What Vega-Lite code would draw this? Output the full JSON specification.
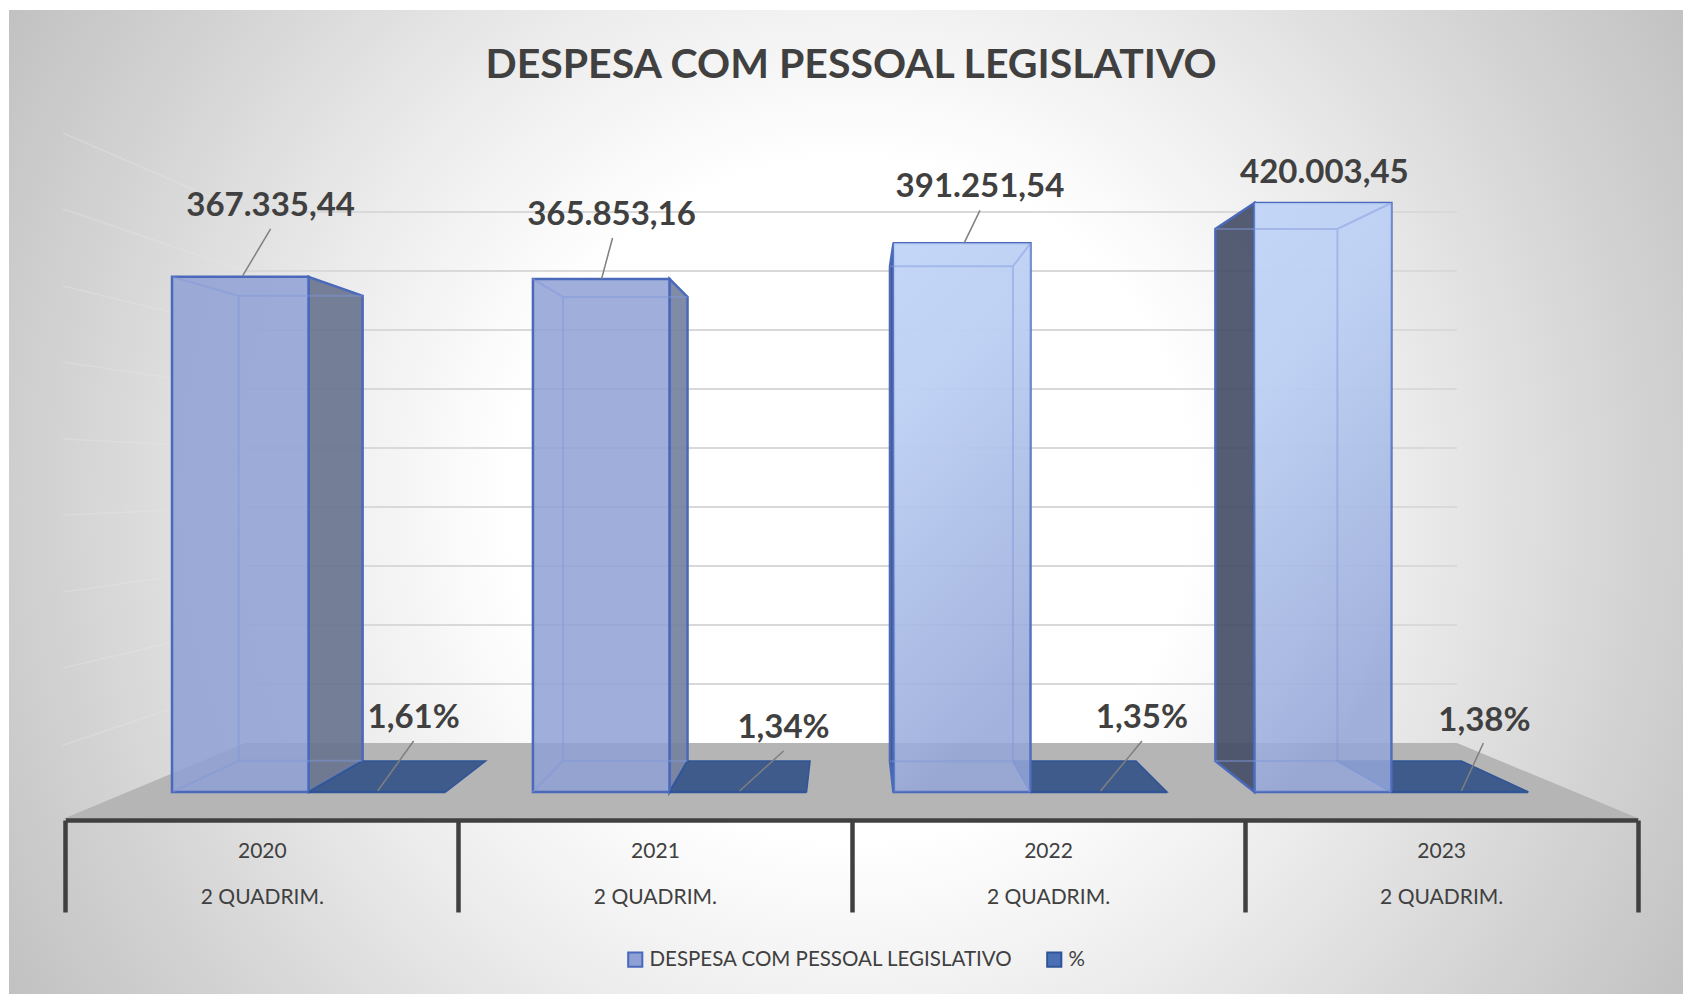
{
"$schema":"https://vega.github.io/schema/vega-lite/v6.json",
"autosize":{"type":"none"},
"padding":{"left":9,"top":10,"right":0,"bottom":0},
"width":1674,"height":984,
"background":"#ffffff",
"config":{"view":{"stroke":null},"font":"Lato"},
"title":{"text":"DESPESA COM PESSOAL LEGISLATIVO","font":"Lato","fontWeight":"bold","fontSize":41,"color":"#404040","anchor":"middle","dx":5,"offset":-97,"baseline":"middle"},
"datasets":{
"linhas":[
{"ano":"2020","quadrim":"2 QUADRIM.","serie":"DESPESA COM PESSOAL LEGISLATIVO","valor":367335.44,"rotulo":"367.335,44"},
{"ano":"2021","quadrim":"2 QUADRIM.","serie":"DESPESA COM PESSOAL LEGISLATIVO","valor":365853.16,"rotulo":"365.853,16"},
{"ano":"2022","quadrim":"2 QUADRIM.","serie":"DESPESA COM PESSOAL LEGISLATIVO","valor":391251.54,"rotulo":"391.251,54"},
{"ano":"2023","quadrim":"2 QUADRIM.","serie":"DESPESA COM PESSOAL LEGISLATIVO","valor":420003.45,"rotulo":"420.003,45"},
{"ano":"2020","quadrim":"2 QUADRIM.","serie":"%","valor":0.0161,"rotulo":"1,61%"},
{"ano":"2021","quadrim":"2 QUADRIM.","serie":"%","valor":0.0134,"rotulo":"1,34%"},
{"ano":"2022","quadrim":"2 QUADRIM.","serie":"%","valor":0.0135,"rotulo":"1,35%"},
{"ano":"2023","quadrim":"2 QUADRIM.","serie":"%","valor":0.0138,"rotulo":"1,38%"}
],
"grade":[{"grade":50000},{"grade":100000},{"grade":150000},{"grade":200000},{"grade":250000},{"grade":300000},{"grade":350000},{"grade":400000},{"grade":450000}]
},
"resolve":{"scale":{"x":"independent","y":"independent","fill":"independent","stroke":"independent","shape":"independent"},"axis":{"x":"independent"}},
"layer":[
{"data":{"values":[{"peca":"fundo"}]},
 "mark":{"type":"rect","clip":true,"color":{"gradient":"radial","x1":0.5,"y1":0.5,"r1":0,"x2":0.5,"y2":0.5,"r2":0.5,"stops":[{"offset":0,"color":"#ffffff"},{"offset":0.34,"color":"#ffffff"},{"offset":0.54,"color":"#ededed"},{"offset":0.78,"color":"#d4d4d4"},{"offset":1,"color":"#bfbfbf"}]}},
 "encoding":{"x":{"value":-159},"x2":{"value":1841},"y":{"value":-510},"y2":{"value":1490}}},
{"data":{"values":[{"peca":"parede"}]},
 "mark":{"type":"point","size":4,"filled":false,"opacity":0.35,"stroke":"#e8e8e8","strokeWidth":1.5,"shape":"M54,123L236,202M54,199L236,261M54,276L236,320M54,352L236,379M54,429L236,438M54,505L236,497M54,582L236,556M54,658L236,615M54,735L236,674"},
 "encoding":{"x":{"value":0},"y":{"value":0}}},
{"data":{"name":"grade"},
 "mark":{"type":"rule","stroke":"#d9d9d9","strokeWidth":2},
 "encoding":{"x":{"value":236},"x2":{"value":1448},"y":{"field":"grade","type":"quantitative","axis":null,"scale":{"domain":[0,450000],"range":[733,202]}}}},
{"data":{"values":[{"peca":"piso"}]},
 "mark":{"type":"point","size":4,"filled":true,"opacity":1,"fill":"#b5b5b5","stroke":null,"shape":"M54,809L1631,809L1448,733L236,733Z"},
 "encoding":{"x":{"value":0},"y":{"value":0}}},
{"data":{"name":"linhas"},
 "transform":[{"filter":"datum.serie==='%'"}],
 "mark":{"type":"point","opacity":0},
 "encoding":{"x":{"field":"ano","type":"nominal","title":null,"scale":{"type":"band","domain":["2020","2021","2022","2023"],"range":[56.3,1628.7],"padding":0},
   "axis":{"orient":"bottom","offset":-174,"zindex":1,"labelAngle":0,"tickBand":"extent","tickSize":92,"tickWidth":4.5,"tickColor":"#404040","domainWidth":4.5,"domainColor":"#404040","labelColor":"#404040","labelFont":"Lato","labelFontSize":21,"labelPadding":-72,"labelLineHeight":46,"labelBaseline":"top","labelExpr":"datum.label ? [datum.label,'2 QUADRIM.'] : ''"}}}},
{"data":{"name":"linhas"},
 "resolve":{"scale":{"shape":"independent"}},
 "encoding":{"x":{"field":"ano","type":"nominal","axis":null,"scale":{"type":"band","domain":["2020","2021","2022","2023"],"range":[163,1519],"paddingInner":0.243,"paddingOuter":0}},
   "y":{"field":"valor","type":"quantitative","axis":null,"scale":{"domain":[0,420003.45],"range":[782,193]}}},
 "layer":[
 {"transform":[{"filter":"datum.serie!=='%'"}],
  "mark":{"type":"point","size":4,"filled":true,"opacity":1,"fillOpacity":0.92,"strokeOpacity":1,"stroke":"#4a69bb","strokeWidth":2.5,"fill":{"expr":"{'2020':'#69758f','2021':'#75819f','2022':'#3f4a68','2023':'#474f68'}[datum.ano]"}},
  "encoding":{"shape":{"field":"ano","type":"nominal","legend":null,"scale":{"domain":["2020","2021","2022","2023"],"range":["M0,0L54,19L54,484L0,515Z","M0,0L18,18L18,482L0,513Z","M-137,0L-140.5,23L-140.5,518L-137,549Z","M-137,0L-176,26L-176,558L-137,589Z"]}}}},
 {"transform":[{"filter":"datum.serie==='%'"}],
  "mark":{"type":"point","size":4,"filled":true,"opacity":1,"fill":"#3f5b8c","stroke":"#2f5597","strokeWidth":1.5},
  "encoding":{"shape":{"field":"ano","type":"nominal","legend":null,"scale":{"domain":["2020","2021","2022","2023"],"range":["M0,0L137,0L177,-31L54,-31Z","M0,0L137,0L140.5,-31L18,-31Z","M0,0L136.5,0L105.5,-31L-17.5,-31Z","M0,0L137,0L70,-31L-54,-31Z"]}}}},
 {"mark":{"type":"bar","fillOpacity":0.85,"strokeWidth":2.5},
  "encoding":{"xOffset":{"field":"serie","type":"nominal","scale":{"domain":["DESPESA COM PESSOAL LEGISLATIVO","%"],"paddingInner":0,"paddingOuter":0}},
   "fill":{"field":"serie","type":"nominal","scale":{"domain":["DESPESA COM PESSOAL LEGISLATIVO","%"],"range":["#8ea0d4","#4a6fb5"]},
     "legend":{"title":null,"orient":"none","legendX":616,"legendY":939,"direction":"horizontal","columns":2,"symbolType":"square","symbolSize":200,"symbolStrokeWidth":2,"symbolOpacity":1,"labelFont":"Lato","labelFontSize":20.5,"labelColor":"#404040","labelLimit":500,"columnPadding":30,"padding":0}},
   "stroke":{"field":"serie","type":"nominal","scale":{"domain":["DESPESA COM PESSOAL LEGISLATIVO","%"],"range":["#4a69bb","#2f5597"]}}}},
 {"transform":[{"filter":"datum.serie!=='%' && (datum.ano==='2022' || datum.ano==='2023')"}],
  "mark":{"type":"bar","stroke":null,"color":{"gradient":"linear","x1":0,"y1":0,"x2":0.25,"y2":1,"stops":[{"offset":0,"color":"rgba(205,225,255,0.8)"},{"offset":0.3,"color":"rgba(205,225,255,0.7)"},{"offset":1,"color":"rgba(205,225,255,0.08)"}]}},
  "encoding":{"xOffset":{"field":"serie","type":"nominal","scale":{"domain":["DESPESA COM PESSOAL LEGISLATIVO","%"],"paddingInner":0,"paddingOuter":0}}}},
 {"transform":[{"filter":"datum.serie!=='%'"}],
  "mark":{"type":"point","size":4,"filled":false,"opacity":0.45,"stroke":"#7f97dc","strokeWidth":2},
  "encoding":{"shape":{"field":"ano","type":"nominal","legend":null,"scale":{"domain":["2020","2021","2022","2023"],"range":["M-136,0L-70,19L54,19M-70,19L-70,484L54,484M-70,484L-136,515","M-137,0L-106.5,18L18,18M-106.5,18L-106.5,482L18,482M-106.5,482L-137,513","M0,0L-17.5,23L-140.5,23M-17.5,23L-17.5,518L-140.5,518M-17.5,518L0,549","M0,0L-54,26L-176,26M-54,26L-54,558L-176,558M-54,558L0,589"]}}}},
 {"transform":[{"filter":"datum.serie!=='%'"}],
  "mark":{"type":"point","size":4,"filled":false,"opacity":1,"stroke":"#7f7f7f","strokeWidth":1.5},
  "encoding":{"shape":{"field":"ano","type":"nominal","legend":null,"scale":{"domain":["2020","2021","2022","2023"],"range":["M-66,-1L-38,-48","M-68,0L-57,-41","M-66.5,0L-50.5,-33","M0,0"]}}}},
 {"transform":[{"filter":"datum.serie==='%'"}],
  "mark":{"type":"point","size":4,"filled":false,"opacity":1,"stroke":"#7f7f7f","strokeWidth":1.5},
  "encoding":{"shape":{"field":"ano","type":"nominal","legend":null,"scale":{"domain":["2020","2021","2022","2023"],"range":["M69,-1L105,-51","M70,-1L114,-41","M70,-1L111.5,-51","M70,-1L92,-49"]}}}},
 {"transform":[{"filter":"datum.serie!=='%'"}],
  "mark":{"type":"text","font":"Lato","fontWeight":"bold","fontSize":33,"color":"#404040","align":"center","baseline":"middle",
    "dx":{"expr":"{'2020':-38,'2021':-58,'2022':-50.5,'2023':-67}[datum.ano]"},
    "dy":{"expr":"{'2020':-71,'2021':-64,'2022':-56,'2023':-30}[datum.ano]"}},
  "encoding":{"text":{"field":"rotulo","type":"nominal"}}},
 {"transform":[{"filter":"datum.serie==='%'"}],
  "mark":{"type":"text","font":"Lato","fontWeight":"bold","fontSize":33,"color":"#404040","align":"center","baseline":"middle",
    "dx":{"expr":"{'2020':105,'2021':114,'2022':111.5,'2023':93}[datum.ano]"},
    "dy":{"expr":"{'2020':-74,'2021':-64,'2022':-74,'2023':-71}[datum.ano]"}},
  "encoding":{"text":{"field":"rotulo","type":"nominal"}}}
 ]}
]
}
